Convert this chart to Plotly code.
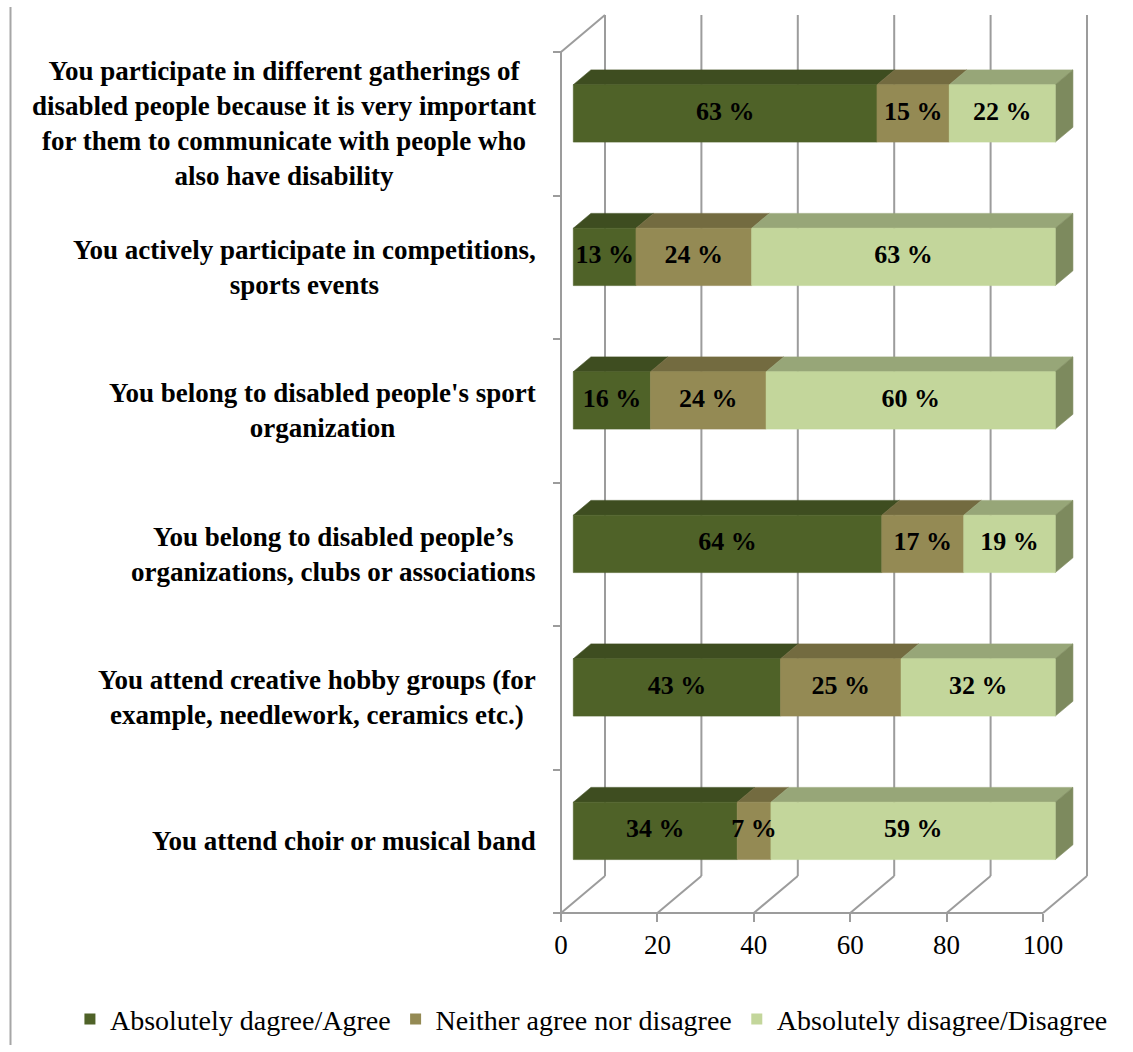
import plotly.graph_objects as go

# Survey statements (top to bottom) and answer shares in percent
categories = [
    "You participate in different gatherings of<br>disabled people because it is very important<br>for them to communicate with people who<br>also have disability",
    "You actively participate in competitions,<br>sports events",
    "You belong to disabled people's sport<br>organization",
    "You belong to disabled people’s<br>organizations, clubs or associations",
    "You attend creative hobby groups (for<br>example, needlework, ceramics etc.)",
    "You attend choir or musical band",
]
agree = [63, 13, 16, 64, 43, 34]
neutral = [15, 24, 24, 17, 25, 7]
disagree = [22, 63, 60, 19, 32, 59]
series_names = ["Absolutely dagree/Agree", "Neither agree nor disagree", "Absolutely disagree/Disagree"]
x_ticks = [0, 20, 40, 60, 80, 100]

# Colours: front face, top face for each series; side face of the last segment
front_cols = ["#4F6228", "#948A54", "#C3D69B"]
top_cols = ["#3E4D20", "#736B40", "#97A678"]
side_col = "#7D8A5E"
grid_col = "#9C9C9C"

FONT = "Liberation Serif, Times New Roman, serif"

# Oblique projection of the depth axis, expressed in axis units
W, H = 1133, 1052
PX_X = 4.82          # pixels per percent
PX_Y = 143.5         # pixels per category
X0_PX = 561          # pixel of x = 0 on the front plane
Y0_PX = 123.75       # pixel of the first category centre
DX = 44 / PX_X       # depth shift in x
DY = -37 / PX_Y      # depth shift in y
F1, F2 = 0.28, 0.68  # bar depth (front / back fraction)
HALF = 0.2           # half bar thickness
n = len(categories)
y_lo, y_hi = -0.5, n - 0.5

fig = go.Figure()

# Walls and floor gridlines
gx, gy = [], []
for v in x_ticks:
    gx += [v + DX, v + DX, None]
    gy += [y_lo + DY, y_hi + DY, None]
    gx += [v, v + DX, None]
    gy += [y_hi, y_hi + DY, None]
gx += [0, 0, None, 0, DX, None, 0, 100, None]
gy += [y_lo, y_hi, None, y_lo, y_lo + DY, None, y_hi, y_hi, None]
fig.add_trace(go.Scatter(x=gx, y=gy, mode="lines", line=dict(color=grid_col, width=2),
                         hoverinfo="skip", showlegend=False))

# Stacked 3D bars
series = [agree, neutral, disagree]
fronts = [([], []) for _ in series]
tops = [([], []) for _ in series]
sides = ([], [])
labels = []
for i in range(n):
    start = 0
    for k, vals in enumerate(series):
        s, e = start, start + vals[i]
        yt, yb = i - HALF, i + HALF
        fx, fy = fronts[k]
        fx += [s + F1 * DX, e + F1 * DX, e + F1 * DX, s + F1 * DX, s + F1 * DX, None]
        fy += [yt + F1 * DY, yt + F1 * DY, yb + F1 * DY, yb + F1 * DY, yt + F1 * DY, None]
        tx, ty = tops[k]
        tx += [s + F1 * DX, e + F1 * DX, e + F2 * DX, s + F2 * DX, s + F1 * DX, None]
        ty += [yt + F1 * DY, yt + F1 * DY, yt + F2 * DY, yt + F2 * DY, yt + F1 * DY, None]
        if k == len(series) - 1:
            sx, sy = sides
            sx += [e + F1 * DX, e + F2 * DX, e + F2 * DX, e + F1 * DX, e + F1 * DX, None]
            sy += [yt + F1 * DY, yt + F2 * DY, yb + F2 * DY, yb + F1 * DY, yt + F1 * DY, None]
        labels.append(((s + e) / 2 + F1 * DX, i + F1 * DY, f"{vals[i]} %"))
        start = e

for k in range(len(series)):
    fig.add_trace(go.Scatter(x=tops[k][0], y=tops[k][1], mode="lines", fill="toself",
                             fillcolor=top_cols[k], line=dict(width=0.6, color=top_cols[k]),
                             hoverinfo="skip", showlegend=False))
fig.add_trace(go.Scatter(x=sides[0], y=sides[1], mode="lines", fill="toself",
                         fillcolor=side_col, line=dict(width=0.6, color=side_col),
                         hoverinfo="skip", showlegend=False))
for k in range(len(series)):
    fig.add_trace(go.Scatter(x=fronts[k][0], y=fronts[k][1], mode="lines", fill="toself",
                             fillcolor=front_cols[k], line=dict(width=0.6, color=front_cols[k]),
                             hoverinfo="skip", showlegend=False))

# Legend entries
for k, name in enumerate(series_names):
    fig.add_trace(go.Scatter(x=[None], y=[None], mode="markers", name=name,
                             marker=dict(symbol="square", size=11, color=front_cols[k])))

# Value labels on the front faces
fig.add_trace(go.Scatter(x=[l[0] for l in labels], y=[l[1] for l in labels],
                         text=[l[2] for l in labels], mode="text",
                         textfont=dict(family=FONT, size=26, color="black", weight="bold"),
                         hoverinfo="skip", showlegend=False))

# Category labels
for i, c in enumerate(categories):
    fig.add_annotation(x=-4.8, y=i, text=f"<b>{c}</b>", showarrow=False,
                       xanchor="right", yanchor="middle", align="center",
                       font=dict(family=FONT, size=27, color="black"))

fig.update_layout(
    width=W, height=H,
    margin=dict(l=0, r=0, t=0, b=0),
    paper_bgcolor="white", plot_bgcolor="white",
    showlegend=True,
    legend=dict(orientation="h", x=0.522, xanchor="center", y=0.031, yanchor="middle",
                font=dict(family=FONT, size=28, color="black"), itemwidth=30,
                bgcolor="rgba(0,0,0,0)"),
    shapes=[dict(type="line", xref="paper", yref="paper", x0=10.5 / W, x1=10.5 / W,
                 y0=1 - 7 / H, y1=1 - 1045 / H, line=dict(color="#A6A6A6", width=2))],
)
fig.update_xaxes(range=[-X0_PX / PX_X, (W - X0_PX) / PX_X], domain=[0, 1],
                 anchor="free", position=(H - (Y0_PX + PX_Y * y_hi)) / H,
                 tickvals=x_ticks, ticks="outside", ticklen=8, tickwidth=2, tickcolor=grid_col,
                 tickfont=dict(family=FONT, size=27, color="black"),
                 showgrid=False, zeroline=False, showline=False)
fig.update_yaxes(range=[(H - Y0_PX) / PX_Y, -Y0_PX / PX_Y], domain=[0, 1],
                 anchor="free", position=X0_PX / W,
                 tickvals=[y_lo + j for j in range(n + 1)], ticktext=[""] * (n + 1),
                 ticks="outside", ticklen=8, tickwidth=2, tickcolor=grid_col,
                 showgrid=False, zeroline=False, showline=False)

fig.write_html("out.html")
